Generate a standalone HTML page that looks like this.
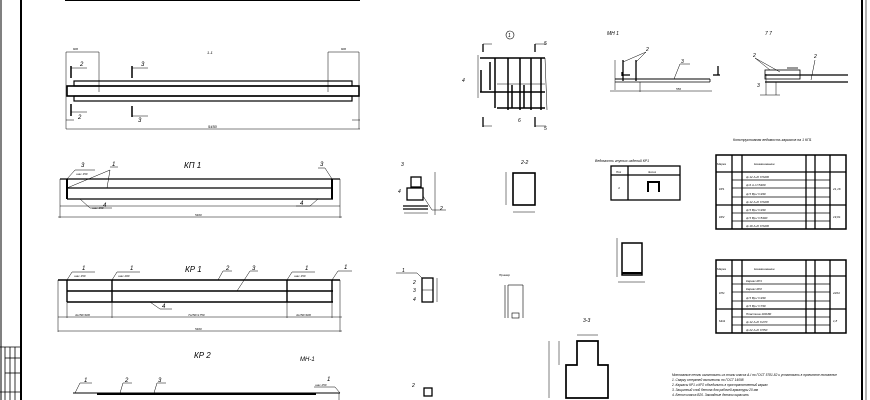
<!DOCTYPE html>
<html><head><meta charset="utf-8"><style>
html,body{margin:0;padding:0;background:#fff}
svg{display:block}
text{font-family:"Liberation Sans","DejaVu Sans",sans-serif;font-style:italic;fill:#000}
</style></head><body>
<svg width="870" height="400" viewBox="0 0 870 400" xmlns="http://www.w3.org/2000/svg" stroke="#000" fill="none">
<line x1="1" y1="0" x2="1" y2="400" stroke-width="1"/>
<line x1="21" y1="0" x2="21" y2="400" stroke-width="2"/>
<line x1="862" y1="0" x2="862" y2="400" stroke-width="2"/>
<line x1="866" y1="0" x2="866" y2="400" stroke-width="0.6"/>
<line x1="65" y1="0.5" x2="360" y2="0.5" stroke-width="1"/>
<g stroke-width="0.8">
<line x1="0" y1="347" x2="21" y2="347"/>
<line x1="5" y1="347" x2="5" y2="400"/>
<line x1="10" y1="347" x2="10" y2="400"/>
<line x1="15" y1="347" x2="15" y2="400"/>
<line x1="5" y1="358" x2="21" y2="358"/>
<line x1="5" y1="373" x2="21" y2="373"/>
<line x1="0" y1="392" x2="21" y2="392"/>
</g>

<g stroke-width="1.2">
<rect x="67" y="86" width="292" height="10" stroke-width="1.6"/>
<rect x="74" y="81" width="278" height="5"/>
<rect x="74" y="96" width="278" height="5"/>
</g>
<g stroke-width="0.5">
<line x1="66" y1="52" x2="99" y2="52"/><line x1="99" y1="52" x2="99" y2="92"/><line x1="66" y1="52" x2="66" y2="129"/>
<line x1="328" y1="52" x2="359" y2="52"/><line x1="328" y1="52" x2="328" y2="92"/><line x1="359" y1="52" x2="359" y2="129"/>
<line x1="66" y1="129" x2="360" y2="129"/>
<line x1="352" y1="120" x2="360" y2="120"/><line x1="66" y1="120" x2="74" y2="120"/>
</g>
<g stroke-width="1.5"><line x1="71" y1="66" x2="71" y2="78"/><line x1="132" y1="66" x2="132" y2="78"/><line x1="71" y1="104" x2="71" y2="116"/><line x1="132" y1="106" x2="132" y2="117"/></g>
<g stroke-width="0.5"><line x1="71" y1="68" x2="87" y2="68"/><line x1="132" y1="68" x2="148" y2="68"/><line x1="71" y1="112" x2="87" y2="112"/><line x1="132" y1="116" x2="148" y2="116"/></g>
<g font-size="6" stroke="none"><text x="80" y="66">2</text><text x="141" y="66">3</text><text x="78" y="119">2</text><text x="138" y="122">3</text><text x="207" y="54" font-size="4">1-1</text><text x="208" y="128" font-size="4">5450</text><text x="73" y="50" font-size="3">600</text><text x="341" y="50" font-size="3">600</text></g>

<text x="184" y="168" font-size="8" stroke="none">КП 1</text>
<g stroke-width="1.3">
<line x1="60" y1="179" x2="340" y2="179"/>
<line x1="67" y1="188" x2="333" y2="188"/>
<line x1="67" y1="199" x2="333" y2="199"/>
<line x1="67" y1="179" x2="67" y2="199" stroke-width="2"/>
<line x1="332" y1="179" x2="332" y2="199" stroke-width="2"/>
</g>
<g stroke-width="0.5">
<line x1="60" y1="179" x2="60" y2="218"/><line x1="340" y1="179" x2="340" y2="218"/>
<line x1="58" y1="217" x2="342" y2="217"/>
<line x1="60" y1="206" x2="340" y2="206"/>
<line x1="67" y1="179" x2="75" y2="170"/><line x1="75" y1="170" x2="95" y2="170"/>
<line x1="67" y1="188" x2="110" y2="170"/><line x1="107" y1="188" x2="110" y2="170"/><line x1="110" y1="167" x2="118" y2="167"/>
<line x1="332" y1="179" x2="325" y2="168"/><line x1="318" y1="168" x2="325" y2="168"/>
<line x1="80" y1="199" x2="90" y2="208"/><line x1="90" y1="208" x2="112" y2="208"/>
<line x1="318" y1="199" x2="310" y2="206"/><line x1="296" y1="206" x2="310" y2="206"/>
</g>
<g font-size="6" stroke="none"><text x="81" y="167">3</text><text x="112" y="166">1</text><text x="320" y="166">3</text><text x="103" y="207">4</text><text x="300" y="205">4</text><text x="76" y="175" font-size="3">шаг 150</text><text x="92" y="209" font-size="3">шаг 150</text><text x="195" y="216" font-size="3">5400</text></g>

<text x="185" y="272" font-size="8" stroke="none">КР 1</text>
<g stroke-width="1.4">
<line x1="58" y1="280" x2="340" y2="280"/>
<line x1="67" y1="291" x2="333" y2="291"/>
<line x1="67" y1="302" x2="333" y2="302"/>
<line x1="67" y1="280" x2="67" y2="302"/><line x1="112" y1="280" x2="112" y2="302"/>
<line x1="287" y1="280" x2="287" y2="302"/><line x1="332" y1="280" x2="332" y2="302"/>
</g>
<g stroke-width="0.5">
<line x1="58" y1="317" x2="342" y2="317"/><line x1="58" y1="331" x2="342" y2="331"/>
<line x1="58" y1="280" x2="58" y2="332"/><line x1="340" y1="280" x2="340" y2="332"/>
<line x1="67" y1="302" x2="67" y2="318"/><line x1="112" y1="302" x2="112" y2="318"/><line x1="287" y1="302" x2="287" y2="318"/><line x1="332" y1="302" x2="332" y2="318"/>
<line x1="67" y1="280" x2="72" y2="272"/><line x1="72" y1="272" x2="95" y2="272"/>
<line x1="112" y1="280" x2="117" y2="272"/><line x1="117" y1="272" x2="140" y2="272"/>
<line x1="287" y1="280" x2="292" y2="272"/><line x1="292" y1="272" x2="315" y2="272"/>
<line x1="332" y1="280" x2="338" y2="271"/><line x1="338" y1="271" x2="352" y2="271"/>
<line x1="218" y1="280" x2="223" y2="271"/><line x1="223" y1="271" x2="232" y2="271"/>
<line x1="237" y1="291" x2="250" y2="271"/><line x1="250" y1="271" x2="258" y2="271"/>
<line x1="150" y1="302" x2="160" y2="309"/><line x1="160" y1="309" x2="172" y2="309"/>
</g>
<g font-size="6" stroke="none"><text x="82" y="270">1</text><text x="130" y="270">1</text><text x="305" y="270">1</text><text x="344" y="269">1</text><text x="226" y="270">2</text><text x="252" y="270">3</text><text x="162" y="308">4</text>
<text x="74" y="277" font-size="3">шаг 150</text><text x="118" y="277" font-size="3">шаг 200</text><text x="294" y="277" font-size="3">шаг 150</text>
<text x="75" y="316" font-size="3">4x150=600</text><text x="188" y="316" font-size="3">7x250=1750</text><text x="296" y="316" font-size="3">4x150=600</text><text x="195" y="330" font-size="3">5400</text></g>

<text x="194" y="358" font-size="8" stroke="none">КР 2</text>
<text x="300" y="361" font-size="6" stroke="none">МН-1</text>
<line x1="73" y1="393" x2="340" y2="393" stroke-width="1"/>
<line x1="97" y1="394" x2="316" y2="394" stroke-width="2"/>
<g stroke-width="0.5"><line x1="75" y1="393" x2="80" y2="383"/><line x1="80" y1="383" x2="92" y2="383"/>
<line x1="120" y1="393" x2="123" y2="383"/><line x1="123" y1="383" x2="132" y2="383"/>
<line x1="154" y1="393" x2="157" y2="383"/><line x1="157" y1="383" x2="166" y2="383"/>
<line x1="340" y1="393" x2="335" y2="387"/><line x1="314" y1="387" x2="335" y2="387"/>
<line x1="339" y1="393" x2="339" y2="400"/></g>
<g font-size="6" stroke="none"><text x="84" y="382">1</text><text x="125" y="382">2</text><text x="158" y="382">3</text><text x="327" y="381">1</text><text x="315" y="386" font-size="3">шаг 250</text></g>

<g stroke-width="1.3">
<rect x="411" y="177" width="10" height="10"/>
<rect x="407" y="188" width="16" height="12"/>
<line x1="403" y1="206" x2="428" y2="206"/>
<line x1="403" y1="209" x2="428" y2="209"/>
<rect x="422" y="278" width="11" height="24"/>
<line x1="422" y1="290" x2="433" y2="290" stroke-width="0.5"/>
<rect x="424" y="388" width="8" height="8"/>
</g>
<g stroke-width="0.5">
<line x1="435" y1="172" x2="435" y2="215"/><line x1="404" y1="213" x2="428" y2="213"/>
<line x1="437" y1="278" x2="437" y2="302"/><line x1="396" y1="273" x2="417" y2="273"/><line x1="417" y1="273" x2="422" y2="278"/>
<line x1="423" y1="196" x2="432" y2="210"/><line x1="432" y1="210" x2="446" y2="210"/>
</g>
<g font-size="5" stroke="none"><text x="401" y="166">3</text><text x="398" y="193">4</text><text x="402" y="272">1</text><text x="413" y="284">2</text><text x="413" y="292">3</text><text x="413" y="301">4</text><text x="412" y="387">2</text><text x="440" y="210">2</text></g>

<text x="521" y="164" font-size="5" stroke="none">2-2</text>
<rect x="513" y="173" width="22" height="32" stroke-width="1.6"/>
<g stroke-width="0.5"><line x1="506" y1="172" x2="506" y2="205"/><line x1="513" y1="212" x2="535" y2="212"/></g>

<circle cx="510" cy="35" r="4" stroke-width="0.6"/>
<text x="508" y="37" font-size="5" stroke="none">1</text>
<g stroke-width="1.5">
<line x1="480" y1="58" x2="545" y2="58"/>
<line x1="480" y1="92" x2="545" y2="92"/>
<line x1="497" y1="108" x2="545" y2="108"/>
<line x1="495" y1="58" x2="495" y2="108"/>
<line x1="508" y1="58" x2="508" y2="110"/>
<line x1="520" y1="58" x2="520" y2="110"/>
<line x1="531" y1="58" x2="531" y2="110"/>
<line x1="541" y1="58" x2="541" y2="110"/>
<line x1="481" y1="70" x2="481" y2="92"/>
<line x1="490" y1="62" x2="490" y2="90"/>
<line x1="512" y1="85" x2="512" y2="108"/>
<line x1="524" y1="85" x2="524" y2="108"/>
</g>
<g stroke-width="0.5"><line x1="478" y1="55" x2="478" y2="98"/><line x1="497" y1="84" x2="545" y2="84"/><line x1="545" y1="58" x2="547" y2="110"/></g>
<g stroke-width="1.3"><line x1="483" y1="44" x2="483" y2="52"/><line x1="535" y1="44" x2="535" y2="52"/><line x1="483" y1="117" x2="483" y2="127"/><line x1="535" y1="117" x2="535" y2="127"/></g>
<g stroke-width="0.5"><line x1="483" y1="44" x2="492" y2="44"/><line x1="535" y1="44" x2="546" y2="44"/><line x1="483" y1="126" x2="492" y2="126"/><line x1="535" y1="126" x2="546" y2="126"/></g>
<g font-size="5" stroke="none"><text x="544" y="45">5</text><text x="544" y="130">5</text><text x="462" y="82">4</text><text x="518" y="122">6</text></g>

<text x="607" y="35" font-size="5" stroke="none">МН 1</text>
<g stroke-width="0.8">
<line x1="615" y1="79" x2="710" y2="79" stroke-width="1"/>
<line x1="615" y1="82" x2="710" y2="82"/>
<line x1="710" y1="79" x2="710" y2="82"/>
<line x1="623" y1="60" x2="623" y2="81" stroke-width="1.3"/>
<line x1="636" y1="60" x2="636" y2="81" stroke-width="1.3"/>
<line x1="615" y1="60" x2="615" y2="90" stroke-width="0.5"/>
<line x1="610" y1="91" x2="712" y2="91" stroke-width="0.5"/>
<line x1="640" y1="82" x2="640" y2="92" stroke-width="0.5"/>
<line x1="622" y1="72" x2="622" y2="76" stroke-width="1.3"/><line x1="622" y1="75" x2="630" y2="75" stroke-width="1.3"/>
<line x1="718" y1="66" x2="718" y2="75" stroke-width="1.3"/><line x1="713" y1="75" x2="720" y2="75" stroke-width="1.3"/>
<line x1="674" y1="79" x2="680" y2="64" stroke-width="0.5"/><line x1="680" y1="64" x2="690" y2="64" stroke-width="0.5"/>
<line x1="636" y1="62" x2="646" y2="52" stroke-width="0.5"/><line x1="623" y1="62" x2="646" y2="52" stroke-width="0.5"/>
</g>
<g font-size="5" stroke="none"><text x="681" y="63">3</text><text x="646" y="51">2</text><text x="676" y="90" font-size="3">550</text></g>

<text x="765" y="35" font-size="5" stroke="none">7 7</text>
<g stroke-width="0.8">
<rect x="765" y="70" width="35" height="9"/>
<line x1="765" y1="75" x2="848" y2="75" stroke-width="1.2"/>
<line x1="765" y1="82" x2="848" y2="82" stroke-width="1.2"/>
<line x1="787" y1="68" x2="798" y2="68"/>
<line x1="766" y1="74" x2="766" y2="95" stroke-width="0.5"/><line x1="776" y1="82" x2="776" y2="95" stroke-width="0.5"/>
<line x1="760" y1="95" x2="780" y2="95" stroke-width="0.5"/>
<line x1="755" y1="58" x2="770" y2="70" stroke-width="0.5"/><line x1="755" y1="58" x2="780" y2="72" stroke-width="0.5"/>
<line x1="811" y1="80" x2="815" y2="60" stroke-width="0.5"/>
</g>
<g font-size="5" stroke="none"><text x="753" y="57">2</text><text x="814" y="58">2</text><text x="757" y="87">3</text></g>

<text x="595" y="162" font-size="3.5" stroke="none">Ведомость гнутых изделий КР1</text>
<rect x="611" y="166" width="69" height="34" stroke-width="1.3"/>
<line x1="611" y1="175" x2="680" y2="175" stroke-width="1.3"/>
<line x1="628" y1="166" x2="628" y2="200" stroke-width="1.3"/>
<path d="M648 192 L648 182 L659 182 L659 192" stroke-width="2"/>
<g font-size="3" stroke="none"><text x="616" y="173">Поз</text><text x="648" y="173">Эскиз</text><text x="618" y="189">4</text></g>

<rect x="622" y="243" width="20" height="32" stroke-width="1.5"/>
<line x1="622" y1="273" x2="642" y2="273" stroke-width="2"/>
<g stroke-width="0.5"><line x1="617" y1="238" x2="617" y2="277"/><line x1="618" y1="282" x2="645" y2="282"/></g>
<g stroke-width="0.6"><line x1="505" y1="285" x2="505" y2="318"/><line x1="508" y1="285" x2="508" y2="318"/><line x1="508" y1="285" x2="523" y2="285"/><line x1="523" y1="285" x2="523" y2="318"/><rect x="512" y="313" width="7" height="5"/></g>
<text x="499" y="276" font-size="3" stroke="none">Пример</text>

<text x="583" y="322" font-size="5" stroke="none">3-3</text>
<path d="M577 341 L598 341 L598 365 L608 365 L608 398 L566 398 L566 365 L577 365 Z" stroke-width="1.7"/>
<g stroke-width="0.5"><line x1="577" y1="335" x2="598" y2="335"/><line x1="549" y1="341" x2="549" y2="398"/><line x1="559" y1="341" x2="559" y2="365"/></g>

<text x="733" y="141" font-size="3.5" stroke="none">Конструктивная ведомость каркасов на 1 КП1</text>
<g stroke-width="0.7">
<rect x="716" y="155" width="130" height="74" stroke-width="1.5"/>
<line x1="716" y1="172" x2="846" y2="172" stroke-width="1.3"/>
<line x1="716" y1="205" x2="846" y2="205" stroke-width="1.3"/>
<line x1="732" y1="155" x2="732" y2="229" stroke-width="1.3"/>
<line x1="742" y1="155" x2="742" y2="229" stroke-width="1.3"/>
<line x1="806" y1="155" x2="806" y2="229" stroke-width="1.3"/>
<line x1="815" y1="155" x2="815" y2="229" stroke-width="1.3"/>
<line x1="830" y1="155" x2="830" y2="229" stroke-width="1.3"/>
<line x1="732" y1="180" x2="830" y2="180"/><line x1="732" y1="188" x2="830" y2="188"/><line x1="732" y1="197" x2="830" y2="197"/>
<line x1="732" y1="213" x2="830" y2="213"/><line x1="732" y1="221" x2="830" y2="221"/>
</g>
<g stroke-width="0.7">
<rect x="716" y="260" width="130" height="73" stroke-width="1.5"/>
<line x1="716" y1="276" x2="846" y2="276" stroke-width="1.3"/>
<line x1="716" y1="309" x2="846" y2="309" stroke-width="1.3"/>
<line x1="732" y1="260" x2="732" y2="333" stroke-width="1.3"/>
<line x1="742" y1="260" x2="742" y2="333" stroke-width="1.3"/>
<line x1="806" y1="260" x2="806" y2="333" stroke-width="1.3"/>
<line x1="815" y1="260" x2="815" y2="333" stroke-width="1.3"/>
<line x1="830" y1="260" x2="830" y2="333" stroke-width="1.3"/>
<line x1="732" y1="284" x2="830" y2="284"/><line x1="732" y1="292" x2="830" y2="292"/><line x1="732" y1="301" x2="830" y2="301"/>
<line x1="732" y1="317" x2="830" y2="317"/><line x1="732" y1="325" x2="830" y2="325"/>
</g>
<g font-size="3" stroke="none">
<text x="717" y="165">Марка</text><text x="754" y="165">Наименование</text><text x="719" y="190">КР1</text><text x="719" y="218">КР2</text><text x="833" y="190">21,16</text><text x="833" y="218">19,61</text>
<text x="746" y="178">ф 12 А-III l=5400</text><text x="746" y="186">ф 6 А-I l=5400</text><text x="746" y="195">ф 5 Вр-I l=330</text><text x="746" y="203">ф 12 А-III l=5400</text>
<text x="746" y="211">ф 5 Вр-I l=330</text><text x="746" y="219">ф 5 Вр-I l=5400</text><text x="746" y="227">ф 16 А-III l=5400</text>
<text x="717" y="270">Марка</text><text x="754" y="270">Наименование</text><text x="719" y="294">КП1</text><text x="719" y="322">МН1</text><text x="833" y="294">2204</text><text x="833" y="322">1,8</text>
<text x="746" y="282">Каркас КР1</text><text x="746" y="290">Каркас КР2</text><text x="746" y="299">ф 5 Вр-I l=330</text><text x="746" y="307">ф 5 Вр-I l=730</text>
<text x="746" y="315">Пластина 100х80</text><text x="746" y="323">ф 12 А-III l=270</text><text x="746" y="331">ф 22 А-III l=550</text>
</g>

<g font-size="3.2" stroke="none">
<text x="672" y="376">Монтажные петли изготовить из стали класса А-I по ГОСТ 5781-82 и установить в проектное положение</text>
<text x="672" y="381">1. Сварку стержней выполнить по ГОСТ 14098</text>
<text x="672" y="386">2. Каркасы КР1 и КР2 объединить в пространственный каркас</text>
<text x="672" y="391">3. Защитный слой бетона для рабочей арматуры 20 мм</text>
<text x="672" y="396">4. Бетон класса В20. Закладные детали окрасить</text>
</g>
</svg>
</body></html>
